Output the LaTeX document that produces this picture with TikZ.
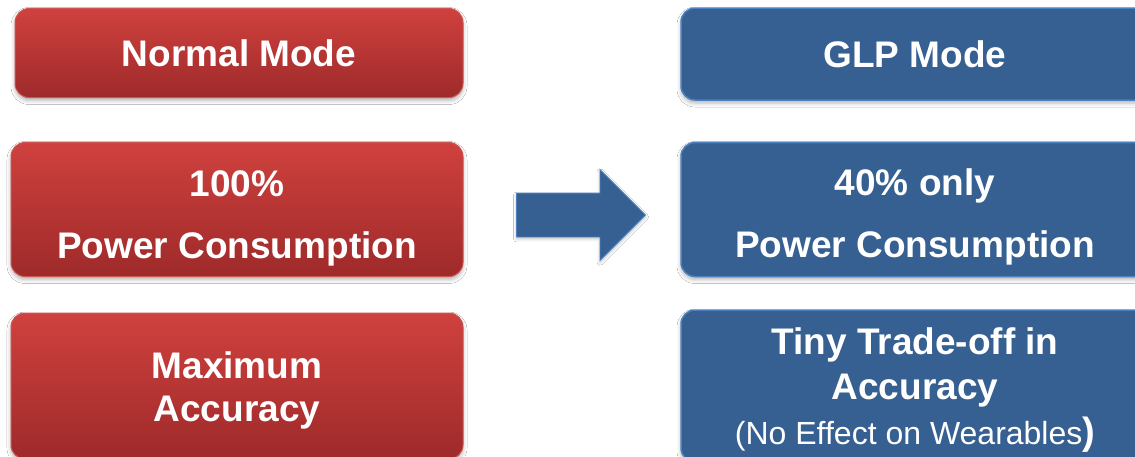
\documentclass[tikz,border=0pt]{standalone}
\usepackage{fontspec}
\setmainfont{Liberation Sans}
\usetikzlibrary{shapes.arrows,shadows.blur}

\definecolor{redtop}{RGB}{207,65,62}
\definecolor{redbot}{RGB}{158,42,42}
\definecolor{redline}{RGB}{205,85,82}
\definecolor{glpblue}{RGB}{54,96,146}
\definecolor{glpline}{RGB}{76,128,190}

\tikzset{
  modebox/.style={rounded corners=14pt, inner sep=0pt, text=white, align=center,
    blur shadow={shadow xshift=0pt, shadow yshift=-3pt, shadow blur radius=4pt,
      shadow opacity=30}},
  redbox/.style={modebox, draw=redline, line width=1pt,
    top color=redtop, bottom color=redbot},
  bluebox/.style={modebox, draw=glpline, line width=1.5pt, fill=glpblue},
  bigtxt/.style={font=\fontsize{37}{44}\selectfont\bfseries}
}
% raises the first line so the text block sits lower in its box
\newcommand{\toppad}[1]{\rule{0pt}{#1}}

\begin{document}
\begin{tikzpicture}[x=1pt,y=-1pt]

   \clip (0,0) rectangle (1135,456);
   \fill [white] (0,0) rectangle (1135,456);

   % normal mode column
   \node (normal) at (239,53) [redbox, bigtxt, minimum width=448pt, minimum height=89pt]
     {Normal Mode};
   \node (power) at (237,209.5) [redbox, minimum width=452pt, minimum height=134pt,
     font=\fontsize{37}{62}\selectfont\bfseries] {\toppad{43pt}100\%\\Power Consumption};
   \node (maxacc) at (237,386) [redbox, minimum width=452pt, minimum height=146pt,
     font=\fontsize{37}{43}\selectfont\bfseries] {\toppad{35pt}Maximum\\Accuracy};

   % GLP mode column
   \node (glp) at (915,54) [bluebox, bigtxt, minimum width=468pt, minimum height=92pt]
     {GLP Mode};
   \node (glppower) at (915,209.5) [bluebox, minimum width=468pt, minimum height=134pt,
     font=\fontsize{37}{62}\selectfont\bfseries] {\toppad{42pt}40\% only\\Power Consumption};
   \node (tradeoff) at (915,386) [bluebox, minimum width=468pt, minimum height=152pt,
     font=\fontsize{37}{45}\selectfont\bfseries]
     {\toppad{34pt}Tiny Trade-off in\\Accuracy\\{\fontsize{32}{36}\selectfont\mdseries (No Effect on Wearables}{\fontsize{38}{36}\selectfont)}};

   % switch arrow
   \node (switch) at (570,215) [single arrow, draw=glpline, line width=0.8pt, fill=glpblue,
     minimum height=129pt, inner sep=21.5pt, single arrow head extend=23.5pt,
     blur shadow={shadow xshift=0pt, shadow yshift=-2pt, shadow blur radius=3pt, shadow opacity=25}] {};

\end{tikzpicture}
\end{document}
